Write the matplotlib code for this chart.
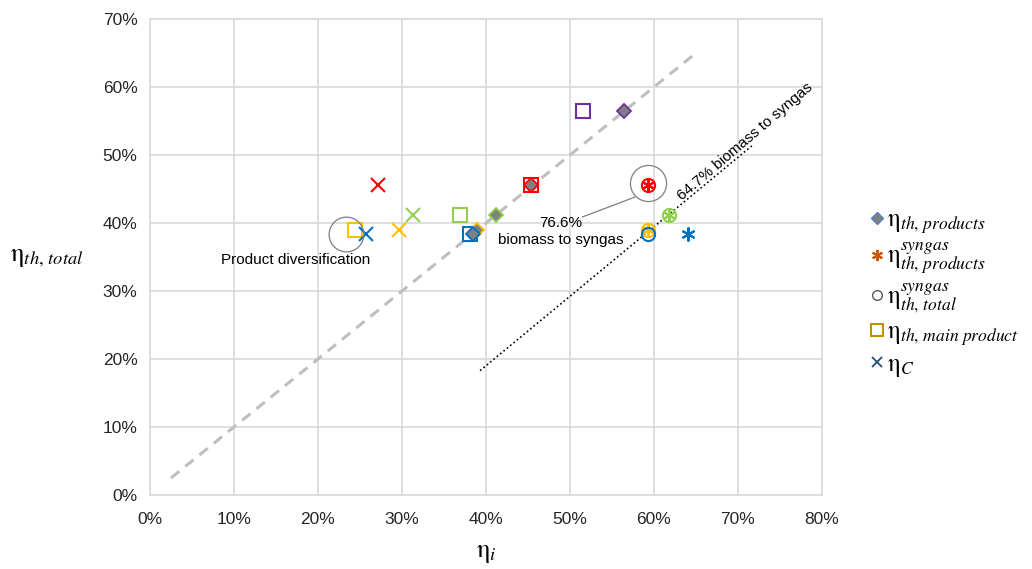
import matplotlib
matplotlib.use("Agg")
from matplotlib import pyplot as plt
from matplotlib.lines import Line2D
from matplotlib.ticker import PercentFormatter

plt.rcParams['font.family'] = ['Liberation Sans', 'DejaVu Sans']
plt.rcParams['mathtext.fontset'] = 'stix'

# one entry per process case (purple, red, green, yellow, blue)
case_colors = ["#7030A0", "#FF0000", "#92D050", "#FFC000", "#0070C0"]
eta_th_total = [0.564, 0.456, 0.412, 0.389, 0.384]
eta_th_products = [0.564, 0.454, 0.412, 0.389, 0.384]
eta_th_main = [0.515, 0.454, 0.369, 0.244, 0.381]
eta_c = [None, 0.271, 0.313, 0.296, 0.257]
eta_syn_products = [None, 0.593, 0.618, 0.593, 0.640]
eta_syn_total = [None, 0.593, 0.618, 0.593, 0.593]

# reference lines
parity_x = [0.025, 0.65]
syngas_line_x = [0.393, 0.718]
syngas_line_y = [0.183, 0.515]

fig = plt.figure(figsize=(10.32, 5.69), dpi=100)
ax = fig.add_axes([0.1453, 0.130, 0.6512, 0.8366])

ax.plot(parity_x, parity_x, color="#bfbfbf", lw=2.2, ls=(0, (3.5, 2.5)), zorder=2)
ax.plot(syngas_line_x, syngas_line_y, color="black", lw=1.2, ls=(0, (1, 1.6)), zorder=2)

for i, col in enumerate(case_colors):
    y = eta_th_total[i]
    ax.plot(eta_th_main[i], y, 's', ms=10.5, mfc='none', mec=col, mew=1.5, zorder=3)
    ax.plot(eta_th_products[i], y, 'D', ms=7.5, mfc='#808080', mec=col, mew=1.3, zorder=4)
    if eta_c[i] is not None:
        ax.plot(eta_c[i], y, 'x', ms=10, mec=col, mew=1.5, zorder=3)
    if eta_syn_total[i] is not None:
        ax.plot(eta_syn_total[i], y, 'o', ms=9.5, mfc='none', mec=col, mew=1.5, zorder=3)
    if eta_syn_products[i] is not None:
        ax.plot(eta_syn_products[i], y, marker=(6, 2, 0), ms=10, mec=col, mew=1.5, ls='none', zorder=3)

# highlight circles
ax.plot(0.233, 0.384, 'o', ms=25, mfc='none', mec='#7f7f7f', mew=0.9, zorder=5)
ax.plot(0.593, 0.459, 'o', ms=26, mfc='none', mec='#7f7f7f', mew=0.9, zorder=5)
ax.plot([0.515, 0.577], [0.409, 0.438], color='#7f7f7f', lw=0.9, zorder=5)

ax.text(0.173, 0.346, "Product diversification", fontsize=11, ha='center', va='center')
ax.text(0.489, 0.388, "76.6%\nbiomass to syngas", fontsize=11, ha='center', va='center',
        linespacing=1.3)
ax.text(0.709, 0.520, "64.7% biomass to syngas", fontsize=11, ha='center', va='center',
        rotation=40.5)

ax.set_xlim(0, 0.8)
ax.set_ylim(0, 0.7)
ax.set_xticks([i / 10 for i in range(9)])
ax.set_yticks([i / 10 for i in range(8)])
ax.xaxis.set_major_formatter(PercentFormatter(1.0, decimals=0))
ax.yaxis.set_major_formatter(PercentFormatter(1.0, decimals=0))
ax.tick_params(length=0, labelsize=12.5, pad=9, colors='#262626')
ax.tick_params(axis='x', pad=12)
ax.grid(True, color='#d9d9d9', lw=1.2, zorder=0)
ax.set_axisbelow(True)
for s in ax.spines.values():
    s.set_color('#d9d9d9')
    s.set_linewidth(1.2)

ax.set_xlabel(r'$\mathrm{\eta}_{i}$', fontsize=19, labelpad=10)
ax.set_ylabel(r'$\mathrm{\eta}_{th,\,total}$', fontsize=19, rotation=0, labelpad=40, va='center')

handles = [
    Line2D([], [], ls='none', marker='D', ms=6, mfc='#808080', mec='#4F81BD', mew=1.0),
    Line2D([], [], ls='none', marker=(6, 2, 0), ms=8, mec='#C55A11', mew=1.5),
    Line2D([], [], ls='none', marker='o', ms=7, mfc='none', mec='#595959', mew=1.0),
    Line2D([], [], ls='none', marker='s', ms=8, mfc='none', mec='#BF9000', mew=1.5),
    Line2D([], [], ls='none', marker='x', ms=7, mec='#1F4E79', mew=1.3),
]
labels = [
    r'$\mathrm{\eta}_{th,\,products}$',
    r'$\mathrm{\eta}_{th,\,products}^{syngas}$',
    r'$\mathrm{\eta}_{th,\,total}^{syngas}$',
    r'$\mathrm{\eta}_{th,\,main\ product}$',
    r'$\mathrm{\eta}_{C}$',
]
fig.legend(handles, labels, loc='center left', bbox_to_anchor=(0.823, 0.484), frameon=False,
           fontsize=18, handlelength=0.45, handletextpad=0.15, labelspacing=0.18)

plt.savefig("out.png", dpi=100)
